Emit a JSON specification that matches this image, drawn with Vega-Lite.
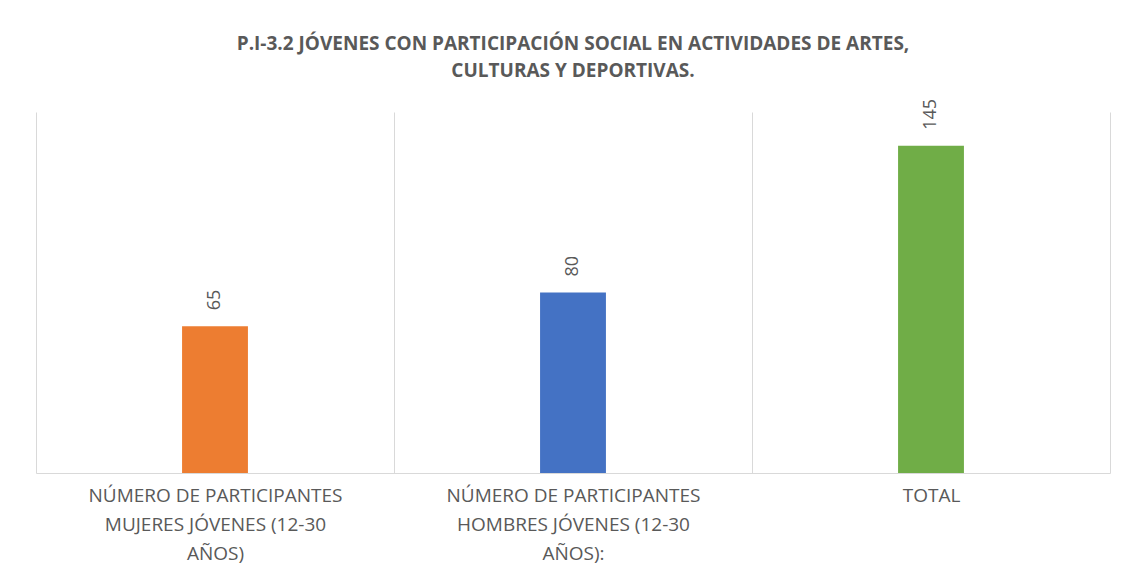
{
  "$schema": "https://vega.github.io/schema/vega-lite/v6.json",
  "width": 1074,
  "height": 361,
  "padding": {"left": 36, "top": 34, "right": 21, "bottom": 5},
  "background": "white",
  "title": {
    "text": ["P.I-3.2 JÓVENES CON PARTICIPACIÓN SOCIAL EN ACTIVIDADES DE ARTES,", "CULTURAS Y DEPORTIVAS."],
    "anchor": "middle",
    "font": "Open Sans",
    "fontSize": 19,
    "fontWeight": "bold",
    "color": "#595959",
    "lineHeight": 27,
    "offset": 18
  },
  "data": {
    "values": [
      {"categoria": "NÚMERO DE PARTICIPANTES MUJERES JÓVENES (12-30 AÑOS)", "valor": 65},
      {"categoria": "NÚMERO DE PARTICIPANTES HOMBRES JÓVENES (12-30 AÑOS):", "valor": 80},
      {"categoria": "TOTAL", "valor": 145}
    ]
  },
  "layer": [
    {
      "mark": {"type": "bar", "width": {"band": 0.184}},
      "encoding": {
        "x": {
          "field": "categoria",
          "type": "nominal",
          "sort": null,
          "scale": {"paddingInner": 0, "paddingOuter": 0},
          "axis": {
            "title": null,
            "labelAngle": 0,
            "labelFont": "Open Sans",
            "labelFontSize": 19,
            "labelColor": "#595959",
            "labelBaseline": "top",
            "labelPadding": 13,
            "labelLimit": 400,
            "labelLineHeight": 29,
            "ticks": false,
            "tickBand": "extent",
            "grid": true,
            "gridColor": "#D9D9D9",
            "domainColor": "#D9D9D9",
            "labelExpr": "('' + datum.value) == 'TOTAL' ? 'TOTAL' : (indexof('' + datum.value, 'MUJERES') >= 0 ? ['NÚMERO DE PARTICIPANTES', 'MUJERES JÓVENES (12-30', 'AÑOS)'] : (indexof('' + datum.value, 'HOMBRES') >= 0 ? ['NÚMERO DE PARTICIPANTES', 'HOMBRES JÓVENES (12-30', 'AÑOS):'] : ''))"
          }
        },
        "y": {
          "field": "valor",
          "type": "quantitative",
          "scale": {"domain": [0, 160], "nice": false},
          "axis": null
        },
        "color": {
          "field": "categoria",
          "type": "nominal",
          "sort": null,
          "scale": {"range": ["#ED7D31", "#4472C4", "#70AD47"]},
          "legend": null
        }
      }
    },
    {
      "mark": {
        "type": "text",
        "angle": 270,
        "align": "left",
        "baseline": "middle",
        "dx": 16,
        "font": "Open Sans",
        "fontSize": 18,
        "color": "#595959"
      },
      "encoding": {
        "x": {"field": "categoria", "type": "nominal", "sort": null},
        "y": {"field": "valor", "type": "quantitative"},
        "text": {"field": "valor", "type": "quantitative"}
      }
    }
  ],
  "config": {"view": {"stroke": null}}
}
